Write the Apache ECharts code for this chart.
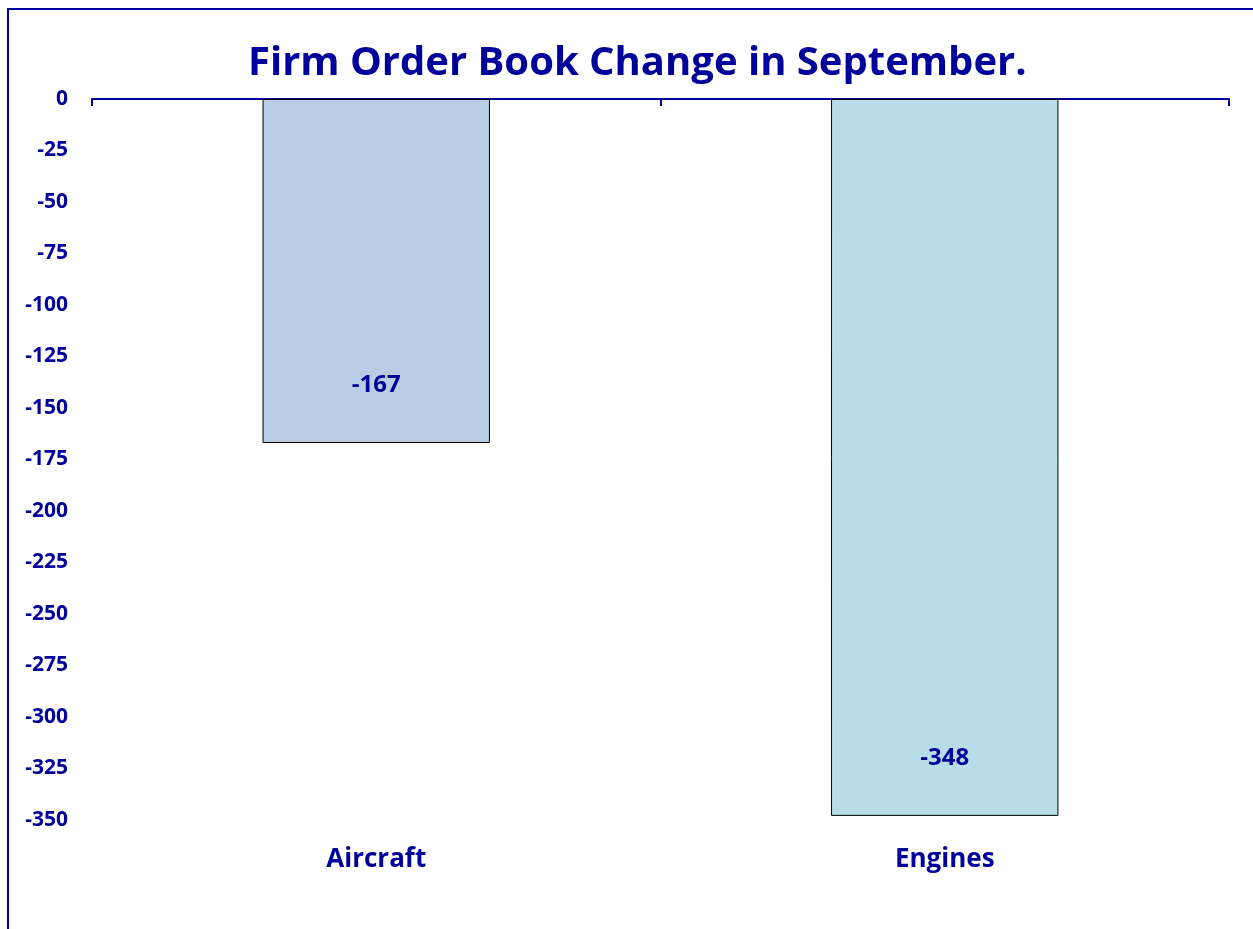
<!DOCTYPE html>
<html><head><meta charset="utf-8">
<script src="https://cdn.jsdelivr.net/npm/echarts@6/dist/echarts.min.js"></script>
<style>html,body{margin:0;padding:0;background:#fff}#c{width:1253px;height:929px}</style>
</head><body><div id="c"></div>
<script>
const categories = ['Aircraft', 'Engines'];
const values = [-167, -348];
const barColors = ['#B8CCE4', '#B7DDE8'];
const yTicks = { min: -350, max: 0, interval: 25 };
const titleText = 'Firm Order Book Change in September.';

const navy = '#00009A';
const font = '"Open Sans", "Noto Sans", sans-serif';
const chart = echarts.init(document.getElementById('c'));
chart.setOption({
  animation: false,
  title: { text: titleText, left: 243, top: 39,
    textStyle: { color: navy, fontSize: 40, fontWeight: 'bold', fontFamily: font } },
  graphic: [{ type: 'rect', shape: { x: 8, y: 9, width: 1300, height: 1000 },
    style: { fill: 'none', stroke: navy, lineWidth: 2 }, silent: true }],
  grid: { left: 92, right: 24, top: 99, bottom: 109 },
  xAxis: [
    { type: 'category', data: categories, position: 'top', boundaryGap: true,
      axisLine: { show: true, lineStyle: { color: navy, width: 2 } },
      axisTick: { show: true, inside: true, length: 7, alignWithLabel: false, interval: 0,
        lineStyle: { color: navy, width: 2 } },
      axisLabel: { show: false } },
    { type: 'category', data: categories, position: 'bottom',
      axisLine: { show: false, onZero: false }, axisTick: { show: false },
      axisLabel: { color: navy, fontSize: 26, fontWeight: 'bold', fontFamily: font, margin: 27 } }
  ],
  yAxis: { type: 'value', min: yTicks.min, max: yTicks.max, interval: yTicks.interval,
    axisLine: { show: false }, axisTick: { show: false }, splitLine: { show: false },
    axisLabel: { color: navy, fontSize: 21, fontWeight: 'bold', fontFamily: font, margin: 24 } },
  series: [{ type: 'bar', xAxisIndex: 0, barWidth: '40%',
    data: values.map((v, i) => ({ value: v, itemStyle: { color: barColors[i] } })),
    itemStyle: { borderColor: '#000', borderWidth: 1 },
    label: { show: true, position: 'insideBottom', distance: 46, color: navy,
      fontSize: 24, fontWeight: 'bold', fontFamily: font } }]
});
</script></body></html>
